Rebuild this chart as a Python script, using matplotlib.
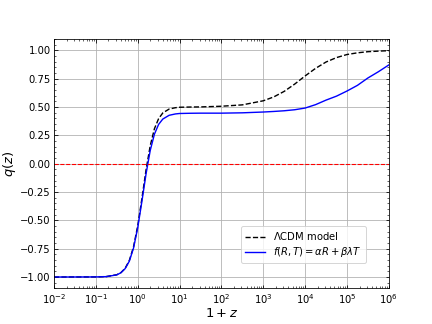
import numpy as np
import matplotlib
matplotlib.use('Agg')
import matplotlib.pyplot as plt
from matplotlib.ticker import AutoMinorLocator, LogLocator, NullFormatter

# log10(1+z) sample points
log_x = [-2.0, -1.0, -0.75, -0.5, -0.4, -0.3, -0.2, -0.1, 0.0, 0.1, 0.2, 0.3,
         0.4, 0.5, 0.6, 0.75, 0.9, 1.0, 1.25, 1.5, 2.0, 2.5, 3.0, 3.25, 3.5,
         3.75, 4.0, 4.25, 4.5, 4.75, 5.0, 5.25, 5.5, 5.75, 6.0]

# Lambda-CDM deceleration parameter
q_lcdm = [-1.0, -0.999, -0.996, -0.980, -0.961, -0.923, -0.854, -0.735, -0.55,
          -0.309, -0.054, 0.159, 0.308, 0.397, 0.447, 0.481, 0.493, 0.497,
          0.499, 0.500, 0.506, 0.518, 0.554, 0.588, 0.637, 0.701, 0.773,
          0.840, 0.896, 0.935, 0.962, 0.977, 0.987, 0.992, 0.996]

# f(R,T) = alpha R + beta lambda T model
q_frt = [-1.0, -0.999, -0.9965, -0.981, -0.962, -0.926, -0.860, -0.745, -0.567,
         -0.334, -0.089, 0.117, 0.260, 0.346, 0.393, 0.426, 0.438, 0.442,
         0.444, 0.445, 0.445, 0.448, 0.455, 0.460, 0.466, 0.475, 0.490,
         0.520, 0.560, 0.595, 0.640, 0.690, 0.755, 0.810, 0.870]

one_plus_z = np.power(10.0, log_x)

fig = plt.figure(figsize=(6, 4.5), dpi=72)
ax = fig.add_subplot(111)

ax.plot(one_plus_z, q_lcdm, color='black', linestyle='--', lw=1.4,
        label=r'$\Lambda$CDM model')
ax.plot(one_plus_z, q_frt, color='blue', linestyle='-', lw=1.4,
        label=r'$f(R,T)=\alpha R+\beta\lambda T$')
ax.axhline(0.0, color='red', linestyle='--', lw=1.1)

ax.set_xscale('log')
ax.set_xlim(1e-2, 1e6)
ax.set_ylim(-1.1, 1.1)
ax.set_yticks([-1.0, -0.75, -0.5, -0.25, 0.0, 0.25, 0.5, 0.75, 1.0])
ax.yaxis.set_minor_locator(AutoMinorLocator(5))
ax.xaxis.set_major_locator(LogLocator(base=10, numticks=20))
ax.xaxis.set_minor_locator(LogLocator(base=10, subs=np.arange(2, 10), numticks=100))
ax.xaxis.set_minor_formatter(NullFormatter())

ax.tick_params(which='both', direction='in', top=True, right=True, labelsize=10)
ax.grid(True, which='major', color='#b0b0b0', lw=0.8)

ax.set_xlabel(r'$1+z$', fontsize=13, labelpad=1)
ax.set_ylabel(r'$q(z)$', fontsize=13, labelpad=2)

ax.legend(loc='lower right', bbox_to_anchor=(0.947, 0.081), fontsize=10,
          labelspacing=0.3)

fig.savefig('out.png', dpi=72)
